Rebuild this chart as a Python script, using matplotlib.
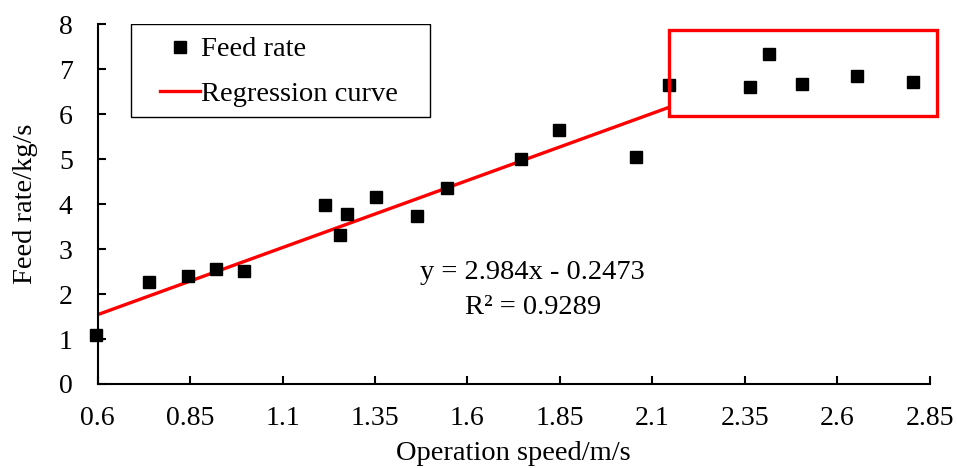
import matplotlib
matplotlib.use("Agg")
import matplotlib.pyplot as plt
import matplotlib.patches as mpatches
import numpy as np

plt.rcParams['font.family'] = ['Liberation Serif', 'DejaVu Serif']

# measured points
speed = [0.595, 0.738, 0.845, 0.919, 0.995, 1.215, 1.255, 1.273, 1.354, 1.465,
         1.546, 1.744, 1.847, 2.056, 2.144, 2.365, 2.415, 2.504, 2.655, 2.805]
feed = [1.09, 2.26, 2.40, 2.56, 2.51, 3.98, 3.31, 3.79, 4.16, 3.74,
        4.37, 5.01, 5.64, 5.04, 6.64, 6.61, 7.34, 6.67, 6.85, 6.71]

slope = 2.984
intercept = -0.2473
fit_range = [0.6, 2.144]

x_ticks = [0.6, 0.85, 1.1, 1.35, 1.6, 1.85, 2.1, 2.35, 2.6, 2.85]
x_tick_labels = ["0.6", "0.85", "1.1", "1.35", "1.6", "1.85", "2.1", "2.35", "2.6", "2.85"]
y_ticks = [0, 1, 2, 3, 4, 5, 6, 7, 8]

fig = plt.figure(figsize=(9.57, 4.68), dpi=100)
ax = fig.add_axes([0.1021, 0.1795, 0.8692, 0.7685])

xf = np.array(fit_range)
ax.plot(xf, slope * xf + intercept, color='red', linewidth=2.4, label='Regression curve', zorder=2)
ax.plot(speed, feed, linestyle='none', marker='s', markersize=8.5, color='black',
        label='Feed rate', zorder=3, clip_on=False)

# highlight box around the plateau
box = mpatches.Rectangle((2.146, 5.95), 0.724, 1.92, fill=False, edgecolor='red',
                         linewidth=2.4, clip_on=False, zorder=4)
ax.add_patch(box)

ax.text(0.523, 0.311, "y = 2.984x - 0.2473", transform=ax.transAxes, ha='center', va='center', fontsize=20.5)
ax.text(0.523, 0.214, "R² = 0.9289", transform=ax.transAxes, ha='center', va='center', fontsize=20.5)

ax.set_xlim(0.6, 2.85)
ax.set_ylim(0, 8)
ax.set_xticks(x_ticks)
ax.set_xticklabels(x_tick_labels)
ax.set_yticks(y_ticks)
ax.tick_params(direction='in', length=6, width=1.5, labelsize=20)
ax.tick_params(axis='x', pad=16)
ax.tick_params(axis='y', pad=18)

for s in ['top', 'right']:
    ax.spines[s].set_visible(False)
for s in ['left', 'bottom']:
    ax.spines[s].set_linewidth(1.5)

ax.set_xlabel("Operation speed/m/s", fontsize=20.5, labelpad=7)
ax.set_ylabel("Feed rate/kg/s", fontsize=20.5, labelpad=15)

# legend frame drawn separately to get the wide side padding
frame = mpatches.Rectangle((0.040, 0.742), 0.3595, 0.258, transform=ax.transAxes,
                           fill=False, edgecolor='black', linewidth=1.0, zorder=5)
ax.add_patch(frame)
h, l = ax.get_legend_handles_labels()
leg = ax.legend([h[1], h[0]], [l[1], l[0]], loc='upper left', bbox_to_anchor=(0.0749, 0.966),
                borderaxespad=0, fontsize=20.5, frameon=False,
                handlelength=1.4, handletextpad=0.05, labelspacing=0.66, borderpad=0)

fig.savefig("out.png", dpi=100)
